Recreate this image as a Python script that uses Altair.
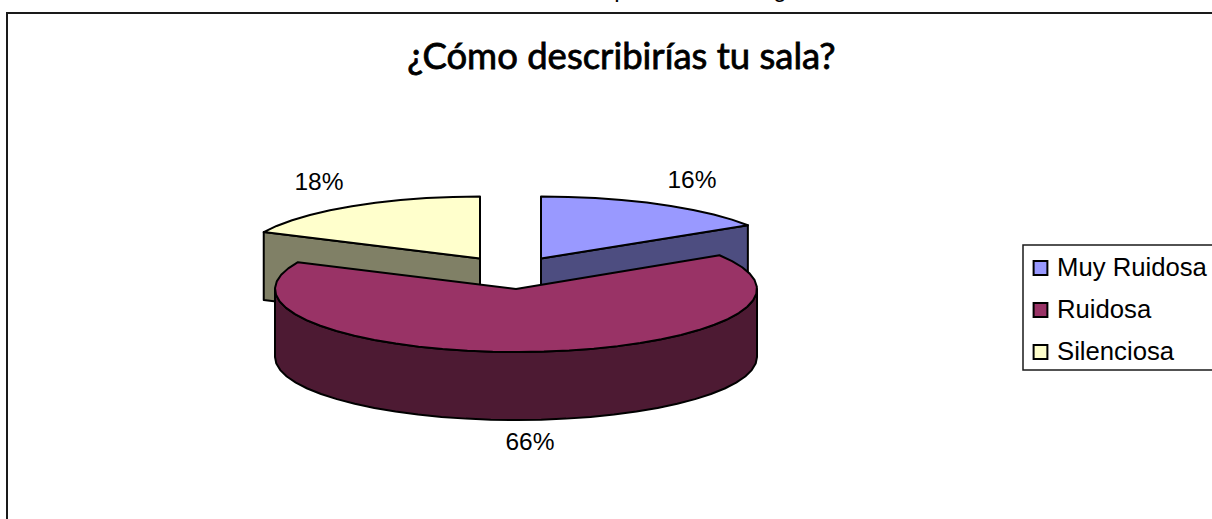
import math
import altair as alt
import pandas as pd

# Survey answers, in percent
categories = ["Muy Ruidosa", "Ruidosa", "Silenciosa"]
shares = [16, 66, 18]
top_colors = ["#9999FF", "#993366", "#FFFFCC"]
side_colors = ["#4D4D80", "#4D1A33", "#808066"]
title_text = "¿Cómo describirías tu sala?"

# Pixel geometry of the exploded pie: each slice has its own centre
W, H = 1212, 519
DEPTH = 68
centres = {
    "Muy Ruidosa": (541, 258.5, 245, 62),
    "Ruidosa": (516, 289, 241, 63),
    "Silenciosa": (480, 258.5, 239, 62),
}
label_anchor = {"Muy Ruidosa": (692, 181), "Ruidosa": (530, 443), "Silenciosa": (319, 183)}
STEP = 6  # degrees between outline vertices


def on_rim(cx, cy, rx, ry, deg, drop=0):
    a = math.radians(deg)
    return cx + rx * math.sin(a), cy - ry * math.cos(a) + drop


def arc(start, end):
    n = max(2, int(abs(end - start) / STEP) + 1)
    return [start + (end - start) * i / (n - 1) for i in range(n)]


# Slice angles follow the shares, clockwise from twelve o'clock
bounds = {}
running = 0.0
for name, share in zip(categories, shares):
    bounds[name] = (running, running + share * 3.6)
    running += share * 3.6

polys = []


def add_poly(pid, layer, color, pts):
    for i, (x, y) in enumerate(pts):
        polys.append({"pid": pid, "layer": layer, "color": color, "i": i, "x": x, "y": y})


draw_order = ["Silenciosa", "Muy Ruidosa", "Ruidosa"]
for rank, name in enumerate(draw_order):
    idx = categories.index(name)
    cx, cy, rx, ry = centres[name]
    a0, a1 = bounds[name]
    if name == "Ruidosa":
        # Front wall of the large slice: the half of the rim that faces the viewer
        rim = arc(90, 270)
        side = [on_rim(cx, cy, rx, ry, d) for d in rim] + [
            on_rim(cx, cy, rx, ry, d, DEPTH) for d in reversed(rim)
        ]
    else:
        # Cut face of the small slices, from the apex out to the rim
        edge = a1 if name == "Muy Ruidosa" else a0
        px, py = on_rim(cx, cy, rx, ry, edge)
        side = [(cx, cy), (px, py), (px, py + DEPTH), (cx, cy + DEPTH)]
    add_poly(f"side-{name}", rank * 2, side_colors[idx], side)
    top = [(cx, cy)] + [on_rim(cx, cy, rx, ry, d) for d in arc(a0, a1)]
    add_poly(f"top-{name}", rank * 2 + 1, top_colors[idx], top)

df = pd.DataFrame(polys)
x_scale = alt.Scale(domain=[0, W], range=[0, W])
y_scale = alt.Scale(domain=[0, H], range=[0, H])
x_enc = alt.X("x:Q", scale=x_scale, axis=None)
y_enc = alt.Y("y:Q", scale=y_scale, axis=None)

layers = []

# Chart frame, running off the right and bottom edges
frame_df = pd.DataFrame({"x": [7, 7, W + 5], "y": [H + 5, 13, 13]}).reset_index()
layers.append(
    alt.Chart(frame_df)
    .mark_line(color="#1a1a1a", strokeWidth=2)
    .encode(x=x_enc, y=y_enc, order="index:Q")
)

# Slices in back-to-front order
for layer_no in sorted(df["layer"].unique()):
    sub = df[df["layer"] == layer_no]
    layers.append(
        alt.Chart(sub)
        .mark_line(
            interpolate="linear-closed",
            fill=sub["color"].iloc[0],
            stroke="#000000",
            strokeWidth=2,
            strokeJoin="round",
        )
        .encode(x=x_enc, y=y_enc, order="i:Q")
    )

# Percentage labels
labels = pd.DataFrame(
    {
        "x": [label_anchor[c][0] for c in categories],
        "y": [label_anchor[c][1] for c in categories],
        "text": [f"{s}%" for s in shares],
    }
)
layers.append(
    alt.Chart(labels)
    .mark_text(font="Liberation Sans", fontSize=24.5, color="#000000", baseline="middle", align="center")
    .encode(x=x_enc, y=y_enc, text="text:N")
)

# Title
layers.append(
    alt.Chart(pd.DataFrame({"x": [621.5], "y": [58], "text": [title_text]}))
    .mark_text(
        font="Lato", fontSize=36.5, color="#000000", stroke="#000000", strokeWidth=0.8,
        baseline="middle", align="center",
    )
    .encode(x=x_enc, y=y_enc, text="text:N")
)

# Descenders of the text line above the frame, cut by the page edge
cut = pd.DataFrame({"x": [621, 780], "y": [-3, -3], "text": ["p", "g"]})
layers.append(
    alt.Chart(cut)
    .mark_text(font="Liberation Sans", fontSize=24, color="#000000", baseline="alphabetic", align="center")
    .encode(x=x_enc, y=y_enc, text="text:N")
)

# Legend box
box = pd.DataFrame({"x": [1023], "x2": [W + 5], "y": [245], "y2": [370]})
layers.append(
    alt.Chart(box)
    .mark_rect(fill="#FFFFFF", stroke="#1a1a1a", strokeWidth=1.5)
    .encode(x=x_enc, x2="x2:Q", y=y_enc, y2="y2:Q")
)

# Legend rows
rows_y = [268, 310, 352]
legend_df = pd.DataFrame({"name": categories, "y": rows_y, "sx": [1040.5] * 3, "tx": [1057] * 3})
layers.append(
    alt.Chart(legend_df)
    .mark_square(size=190, stroke="#000000", strokeWidth=2, opacity=1)
    .encode(
        x=alt.X("sx:Q", scale=x_scale, axis=None),
        y=y_enc,
        fill=alt.Fill("name:N", scale=alt.Scale(domain=categories, range=top_colors), legend=None),
    )
)
layers.append(
    alt.Chart(legend_df)
    .mark_text(font="Liberation Sans", fontSize=25.7, color="#000000", align="left", baseline="middle")
    .encode(x=alt.X("tx:Q", scale=x_scale, axis=None), y=y_enc, text="name:N")
)

chart = (
    alt.layer(*layers)
    .properties(width=W, height=H, padding=0, autosize=alt.AutoSizeParams(type="none"), background="#FFFFFF")
    .configure_view(stroke=None)
)

chart.save("out.html", embed_options={"renderer": "svg", "actions": False})
